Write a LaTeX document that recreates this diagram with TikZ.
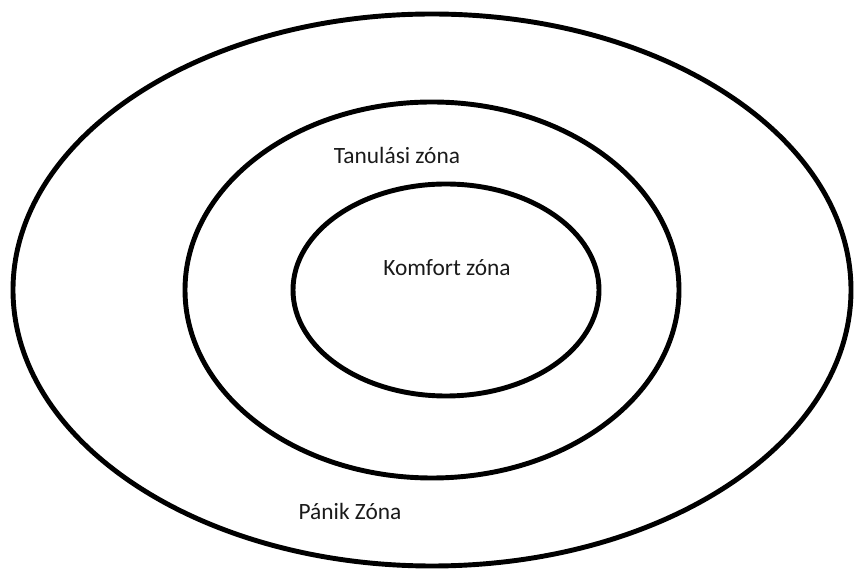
\documentclass[tikz,border=0pt]{standalone}
\usepackage{fontspec}
\setmainfont{Carlito}
\usetikzlibrary{positioning}
\definecolor{zink}{HTML}{1A1A1A}
\tikzset{
  ring/.style={draw=black, line width=2.8pt},
  zlab/.style={font=\fontsize{13.3}{15}\selectfont, text=zink, inner sep=1pt}
}
\begin{document}
\begin{tikzpicture}[x=0.02cm, y=-0.02cm]
  \useasboundingbox (0,0) rectangle (856,570);
  \draw[ring] (432,290) ellipse [x radius=419, y radius=276];
  \draw[ring] (432,290) ellipse [x radius=247, y radius=188];
  \draw[ring] (446,290) ellipse [x radius=153, y radius=106];

  \node[zlab] (tanul) at (397,155) {Tanulási zóna};
  \node[zlab] (komf) at (447,268) {Komfort zóna};
  \node[zlab] (panik) at (350,511) {Pánik Zóna};
\end{tikzpicture}
\end{document}
